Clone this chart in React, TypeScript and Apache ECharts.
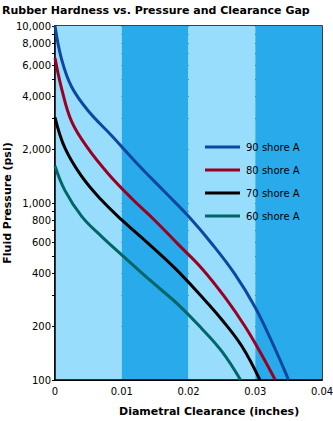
import React, { useEffect, useRef } from "react";
import * as echarts from "echarts";

const seriesNames = ["90 shore A", "80 shore A", "70 shore A", "60 shore A"];
const seriesColors = ["#0D47A1", "#990022", "#000000", "#006666"];

// [diametral clearance (in), fluid pressure (psi)]
const shore90: [number, number][] = [
  [0, 10000], [0.001, 6460], [0.0025, 4520], [0.005, 3310], [0.0085, 2400],
  [0.0125, 1640], [0.0165, 1150], [0.02, 841], [0.0235, 589], [0.027, 394],
  [0.03, 257], [0.0325, 164], [0.035, 100],
];
const shore80: [number, number][] = [
  [0, 6600], [0.001, 4420], [0.0025, 2880], [0.005, 2020], [0.008, 1460],
  [0.0115, 1060], [0.015, 794], [0.0185, 582], [0.022, 427], [0.0255, 292],
  [0.0285, 200], [0.031, 138], [0.033, 100],
];
const shore70: [number, number][] = [
  [0, 3050], [0.0015, 2040], [0.004, 1413], [0.007, 1035], [0.01, 803],
  [0.014, 589], [0.018, 427], [0.022, 295], [0.025, 219], [0.028, 155],
  [0.0307, 100],
];
const shore60: [number, number][] = [
  [0, 1620], [0.0015, 1175], [0.004, 841], [0.007, 646], [0.0105, 490],
  [0.0145, 359], [0.0185, 266], [0.022, 195], [0.025, 145], [0.0278, 100],
];
const seriesData = [shore90, shore80, shore70, shore60];

const yGridValues = [
  100, 200, 300, 400, 500, 600, 700, 800, 900, 1000,
  2000, 3000, 4000, 5000, 6000, 7000, 8000, 9000, 10000,
];
const yLabelValues = [100, 200, 400, 600, 800, 1000, 2000, 4000, 6000, 8000, 10000];

const FONT = "'DejaVu Sans', Verdana, sans-serif";

export default function App() {
  const ref = useRef<HTMLDivElement>(null);
  useEffect(() => {
    if (!ref.current) return;
    const chart = echarts.init(ref.current, undefined, { renderer: "svg" });
    chart.setOption({
      animation: false,
      backgroundColor: "#ffffff",
      title: {
        text: "Rubber Hardness vs. Pressure and Clearance Gap",
        left: 2,
        top: 5,
        padding: 0,
        textStyle: { fontFamily: FONT, fontSize: 11, fontWeight: "bold", color: "#000" },
      },
      grid: {
        left: 55,
        right: 11,
        top: 26,
        bottom: 41,
        show: true,
        borderColor: "#000",
        borderWidth: 1.5,
        backgroundColor: "transparent",
        containLabel: false,
        outerBoundsMode: "none",
      },
      legend: {
        orient: "vertical",
        left: 200,
        top: 137,
        itemWidth: 35,
        itemHeight: 3,
        itemGap: 13,
        icon: "rect",
        textStyle: { fontFamily: FONT, fontSize: 10, color: "#000", padding: [0, 0, 0, 1] },
        data: seriesNames,
      },
      xAxis: {
        type: "value",
        min: 0,
        max: 0.04,
        interval: 0.01,
        axisLine: { lineStyle: { color: "#000", width: 1.5 } },
        axisTick: { show: false },
        axisLabel: { fontFamily: FONT, fontSize: 10, color: "#000", margin: 6 },
        splitLine: { show: false },
        splitArea: { show: true, areaStyle: { color: ["#99DDFD", "#29AAEA"] } },
      },
      yAxis: {
        type: "log",
        logBase: 10,
        min: 100,
        max: 10000,
        name: "Fluid Pressure (psi)",
        nameLocation: "middle",
        nameGap: 42,
        nameMoveOverlap: false,
        nameTextStyle: { fontFamily: FONT, fontSize: 11, fontWeight: "bold", color: "#000" },
        axisLine: { show: true, lineStyle: { color: "#000", width: 1.5 } },
        axisTick: { show: true, customValues: yGridValues, length: 3, lineStyle: { color: "#000" } },
        axisLabel: {
          customValues: yLabelValues,
          fontFamily: FONT,
          fontSize: 10,
          color: "#000",
          margin: 4,
          formatter: (v: number) => v.toLocaleString("en-US"),
        },
        minorTick: { show: false },
        splitLine: { show: true, lineStyle: { color: "#000", width: 1 } },
      },
      graphic: [
        {
          type: "text",
          left: 119,
          top: 406,
          style: {
            text: "Diametral Clearance (inches)",
            font: `bold 11px ${FONT}`,
            fill: "#000",
          },
        },
      ],
      series: seriesNames.map((name, i) => ({
        name,
        type: "line",
        data: seriesData[i],
        smooth: 0.4,
        symbol: "none",
        lineStyle: { color: seriesColors[i], width: 3 },
        itemStyle: { color: seriesColors[i] },
        z: 3,
      })),
    });
    return () => chart.dispose();
  }, []);
  return (
    <div
      ref={ref}
      style={{ position: "absolute", left: 0, top: 0, width: 333, height: 421 }}
    />
  );
}
